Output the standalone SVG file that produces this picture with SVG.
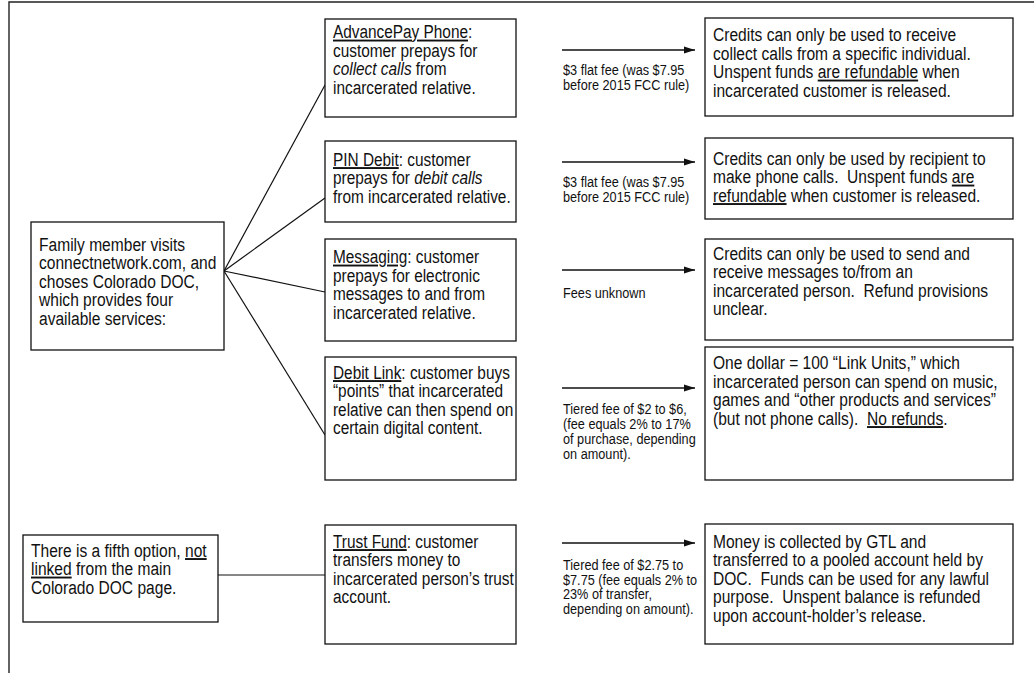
<svg xmlns="http://www.w3.org/2000/svg" width="1034" height="673" viewBox="0 0 1034 673">
<style>
.bg{fill:#fff}
.frame{fill:none;stroke:#222;stroke-width:1.4}
.box{fill:#fff;stroke:#111;stroke-width:1.3}
.t{font-family:"Liberation Sans",Arial,sans-serif;font-size:19px;fill:#111;white-space:pre}
.f{font-size:15.5px}
.u{text-decoration:underline}
.i{font-style:italic}
.ln{stroke:#111;stroke-width:1.2;fill:none}
.ar{stroke:#111;stroke-width:1.6;fill:none}
</style>
<defs>
<marker id="ah" markerUnits="userSpaceOnUse" markerWidth="12" markerHeight="8" refX="11" refY="4" orient="auto">
<path d="M0,0.5 L11,4 L0,7.5 z" fill="#111"/>
</marker>
</defs>
<rect class="bg" x="0" y="0" width="1034" height="673"/>
<path class="frame" d="M9,673 L9,2 L1034,2"/>
<g id="connectors">
<line class="ln" x1="224" y1="271" x2="325" y2="85"/>
<line class="ln" x1="224" y1="271" x2="325" y2="198"/>
<line class="ln" x1="224" y1="271" x2="325" y2="292"/>
<line class="ln" x1="224" y1="271" x2="325" y2="435"/>
<line class="ln" x1="218" y1="575" x2="325" y2="575"/>
<line class="ar" x1="562" y1="50" x2="695" y2="50" marker-end="url(#ah)"/>
<line class="ar" x1="562" y1="162" x2="695" y2="162" marker-end="url(#ah)"/>
<line class="ar" x1="562" y1="270" x2="695" y2="270" marker-end="url(#ah)"/>
<line class="ar" x1="562" y1="388" x2="695" y2="388" marker-end="url(#ah)"/>
<line class="ar" x1="562" y1="543" x2="695" y2="543" marker-end="url(#ah)"/>
</g>
<g id="family">
<rect class="box" x="31" y="222" width="193" height="128"/>
<text class="t" transform="scale(0.82 1)"><tspan x="47.56" y="251">Family member visits</tspan><tspan x="47.56" y="269.5">connectnetwork.com, and</tspan><tspan x="47.56" y="288">choses Colorado DOC,</tspan><tspan x="47.56" y="306.5">which provides four</tspan><tspan x="47.56" y="325">available services:</tspan></text>
</g>
<g id="fifth">
<rect class="box" x="23" y="535" width="195" height="87"/>
<text class="t" transform="scale(0.82 1)"><tspan x="37.8" y="557">There is a fifth option, <tspan class="u">not</tspan></tspan><tspan x="37.8" y="575.5"><tspan class="u">linked</tspan> from the main</tspan><tspan x="37.8" y="594">Colorado DOC page.</tspan></text>
</g>
<g id="advancepay">
<rect class="box" x="325" y="19" width="191" height="98"/>
<text class="t" transform="scale(0.81 1)"><tspan x="411.11" y="38.5"><tspan class="u">AdvancePay Phone</tspan>:</tspan><tspan x="411.11" y="57">customer prepays for</tspan><tspan x="411.11" y="75.5"><tspan class="i">collect calls</tspan> from</tspan><tspan x="411.11" y="94">incarcerated relative.</tspan></text>
</g>
<g id="pindebit">
<rect class="box" x="325" y="141" width="191" height="81"/>
<text class="t" transform="scale(0.81 1)"><tspan x="411.11" y="166"><tspan class="u">PIN Debit</tspan>: customer</tspan><tspan x="411.11" y="184.5">prepays for <tspan class="i">debit calls</tspan></tspan><tspan x="411.11" y="203">from incarcerated relative.</tspan></text>
</g>
<g id="messaging">
<rect class="box" x="325" y="239" width="191" height="102"/>
<text class="t" transform="scale(0.81 1)"><tspan x="411.11" y="263.5"><tspan class="u">Messaging</tspan>: customer</tspan><tspan x="411.11" y="282">prepays for electronic</tspan><tspan x="411.11" y="300.5">messages to and from</tspan><tspan x="411.11" y="319">incarcerated relative.</tspan></text>
</g>
<g id="debitlink">
<rect class="box" x="325" y="357" width="191" height="123"/>
<text class="t" transform="scale(0.81 1)"><tspan x="411.11" y="379"><tspan class="u">Debit Link</tspan>: customer buys</tspan><tspan x="411.11" y="397.5">“points” that incarcerated</tspan><tspan x="411.11" y="416">relative can then spend on</tspan><tspan x="411.11" y="434.5">certain digital content.</tspan></text>
</g>
<g id="trustfund">
<rect class="box" x="325" y="525" width="191" height="119"/>
<text class="t" transform="scale(0.81 1)"><tspan x="411.11" y="548"><tspan class="u">Trust Fund</tspan>: customer</tspan><tspan x="411.11" y="566.5">transfers money to</tspan><tspan x="411.11" y="585">incarcerated person’s trust</tspan><tspan x="411.11" y="603.5">account.</tspan></text>
</g>
<g id="fee-advancepay">
<text class="t f" transform="scale(0.82 1)"><tspan x="686.59" y="75.5">$3 flat fee (was $7.95</tspan><tspan x="686.59" y="90">before 2015 FCC rule)</tspan></text>
</g>
<g id="fee-pindebit">
<text class="t f" transform="scale(0.82 1)"><tspan x="686.59" y="187.5">$3 flat fee (was $7.95</tspan><tspan x="686.59" y="202">before 2015 FCC rule)</tspan></text>
</g>
<g id="fee-messaging">
<text class="t f" transform="scale(0.82 1)"><tspan x="686.59" y="298.5">Fees unknown</tspan></text>
</g>
<g id="fee-debitlink">
<text class="t f" transform="scale(0.82 1)"><tspan x="686.59" y="414.5">Tiered fee of $2 to $6,</tspan><tspan x="686.59" y="429.5">(fee equals 2% to 17%</tspan><tspan x="686.59" y="444.5">of purchase, depending</tspan><tspan x="686.59" y="459.5">on amount).</tspan></text>
</g>
<g id="fee-trustfund">
<text class="t f" transform="scale(0.82 1)"><tspan x="686.59" y="570.5">Tiered fee of $2.75 to</tspan><tspan x="686.59" y="585">$7.75 (fee equals 2% to</tspan><tspan x="686.59" y="599.5">23% of transfer,</tspan><tspan x="686.59" y="614">depending on amount).</tspan></text>
</g>
<g id="result-advancepay">
<rect class="box" x="705" y="18" width="308" height="98"/>
<text class="t" transform="scale(0.82 1)"><tspan x="869.51" y="41.5">Credits can only be used to receive</tspan><tspan x="869.51" y="60">collect calls from a specific individual.</tspan><tspan x="869.51" y="78.5">Unspent funds <tspan class="u">are refundable</tspan> when</tspan><tspan x="869.51" y="97">incarcerated customer is released.</tspan></text>
</g>
<g id="result-pindebit">
<rect class="box" x="705" y="138" width="308" height="81"/>
<text class="t" transform="scale(0.82 1)"><tspan x="869.51" y="165">Credits can only be used by recipient to</tspan><tspan x="869.51" y="183.5">make phone calls.  Unspent funds <tspan class="u">are</tspan></tspan><tspan x="869.51" y="202"><tspan class="u">refundable</tspan> when customer is released.</tspan></text>
</g>
<g id="result-messaging">
<rect class="box" x="705" y="239" width="308" height="101"/>
<text class="t" transform="scale(0.82 1)"><tspan x="869.51" y="260">Credits can only be used to send and</tspan><tspan x="869.51" y="278.5">receive messages to/from an</tspan><tspan x="869.51" y="297">incarcerated person.  Refund provisions</tspan><tspan x="869.51" y="315.5">unclear.</tspan></text>
</g>
<g id="result-debitlink">
<rect class="box" x="705" y="347" width="308" height="133"/>
<text class="t" transform="scale(0.82 1)"><tspan x="869.51" y="369.5">One dollar = 100 “Link Units,” which</tspan><tspan x="869.51" y="388">incarcerated person can spend on music,</tspan><tspan x="869.51" y="406.5">games and “other products and services”</tspan><tspan x="869.51" y="425">(but not phone calls).  <tspan class="u">No refunds</tspan>.</tspan></text>
</g>
<g id="result-trustfund">
<rect class="box" x="705" y="524" width="308" height="120"/>
<text class="t" transform="scale(0.82 1)"><tspan x="869.51" y="548">Money is collected by GTL and</tspan><tspan x="869.51" y="566.5">transferred to a pooled account held by</tspan><tspan x="869.51" y="585">DOC.  Funds can be used for any lawful</tspan><tspan x="869.51" y="603.5">purpose.  Unspent balance is refunded</tspan><tspan x="869.51" y="622">upon account-holder’s release.</tspan></text>
</g>
</svg>
